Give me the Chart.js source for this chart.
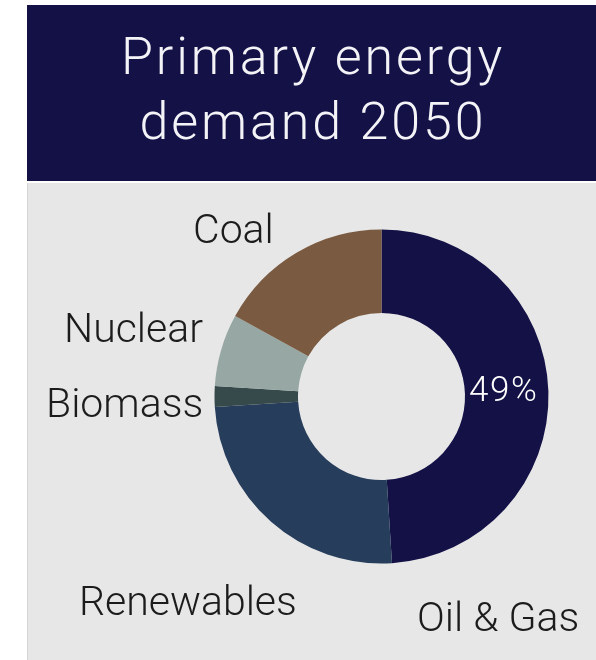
<!DOCTYPE html>
<html>
<head>
<meta charset="utf-8">
<script src="https://cdn.jsdelivr.net/npm/chart.js@4"></script>
<style>
  html, body { margin: 0; padding: 0; background: #ffffff; }
  body { width: 596px; height: 660px; position: relative; overflow: hidden; font-family: Roboto, "Liberation Sans", sans-serif; }
  #header {
    position: absolute; left: 27px; top: 5px; width: 569px; height: 176px;
    background: #131146; color: #f4f4f8;
    font-weight: 300; font-size: 52px; line-height: 65px; letter-spacing: 2.9px;
    text-align: center; box-sizing: border-box; padding-top: 19px; padding-left: 3px;
  }
  #panel {
    position: absolute; left: 27px; top: 183px; width: 569px; height: 477px;
    background: #e7e7e7; border-left: 1px solid #d4d4d4; box-sizing: border-box;
  }
  #chart { position: absolute; left: 0; top: 0; }
</style>
</head>
<body>
<div id="header">Primary energy<br>demand 2050</div>
<div id="panel"><canvas id="chart" width="569" height="477"></canvas></div>
<script>
// Share of primary energy demand in 2050 (%), clockwise from 12 o'clock
const categories = ['Oil & Gas', 'Renewables', 'Biomass', 'Nuclear', 'Coal'];
const shares = [49, 25, 2, 7, 17];
const sliceColors = ['#131146', '#263d5b', '#364a4b', '#97a7a3', '#7a5b41'];
// Only the largest slice carries its value inside the ring
const valueLabelIndex = 0;

// Category names placed around the ring (canvas pixels, alphabetic baseline)
const nameLabels = {
  font: '300 41px Roboto, "Liberation Sans", sans-serif',
  color: '#1c1c1c',
  spots: {
    'Coal':       { x: 165, y: 60 },
    'Nuclear':    { x: 36,  y: 159 },
    'Biomass':    { x: 18,  y: 234 },
    'Renewables': { x: 51,  y: 432 },
    'Oil & Gas':  { x: 389, y: 448 }
  }
};

const ringLabels = {
  id: 'ringLabels',
  afterDatasetsDraw(chart) {
    const ctx = chart.ctx;
    const meta = chart.getDatasetMeta(0);
    const labels = chart.data.labels;
    const values = chart.data.datasets[0].data;
    ctx.save();
    // value inside its slice
    const arc = meta.data[valueLabelIndex];
    const p = arc.tooltipPosition();
    ctx.font = '300 35px Roboto, "Liberation Sans", sans-serif';
    ctx.letterSpacing = '1.5px';
    ctx.fillStyle = '#ffffff';
    ctx.textAlign = 'center';
    ctx.textBaseline = 'middle';
    ctx.fillText(values[valueLabelIndex] + '%', p.x - 3, p.y);
    ctx.letterSpacing = '0px';
    // category names
    ctx.font = nameLabels.font;
    ctx.fillStyle = nameLabels.color;
    ctx.textAlign = 'left';
    ctx.textBaseline = 'alphabetic';
    labels.forEach((name) => {
      const s = nameLabels.spots[name];
      if (s) ctx.fillText(name, s.x, s.y);
    });
    ctx.restore();
  }
};

new Chart(document.getElementById('chart'), {
  type: 'doughnut',
  data: {
    labels: categories,
    datasets: [{
      data: shares,
      backgroundColor: sliceColors,
      borderWidth: 0
    }]
  },
  options: {
    responsive: false,
    animation: false,
    cutout: '50%',
    rotation: 0,
    layout: { padding: { left: 186.5, right: 48.5, top: 46.5, bottom: 96.5 } },
    plugins: {
      legend: { display: false },
      tooltip: { enabled: false }
    }
  },
  plugins: [ringLabels]
});
</script>
</body>
</html>
